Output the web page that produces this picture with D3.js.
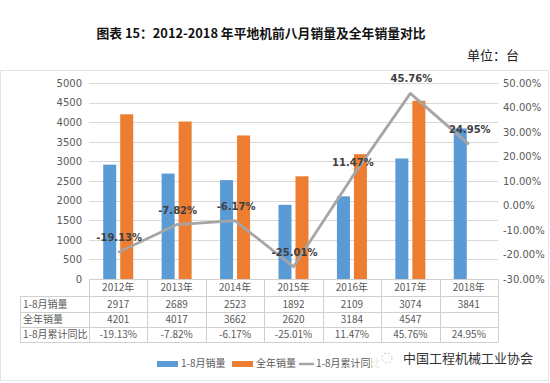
<!DOCTYPE html>
<html><head><meta charset="utf-8">
<script src="https://cdn.jsdelivr.net/npm/d3@7"></script>
<style>
body{margin:0;background:#fff;}
svg{display:block;font-family:"Noto Sans CJK SC","DejaVu Sans",sans-serif;}
</style></head>
<body><svg id="c" width="550" height="383"></svg>
<script>
const categories = ["2012年","2013年","2014年","2015年","2016年","2017年","2018年"];
const salesJanAug = [2917,2689,2523,1892,2109,3074,3841];
const salesFullYear = [4201,4017,3662,2620,3184,4547,null];
const yoyJanAug = [-19.13,-7.82,-6.17,-25.01,11.47,45.76,24.95];
const leftTicks = [0,500,1000,1500,2000,2500,3000,3500,4000,4500,5000];
const rightTicks = [-30,-20,-10,0,10,20,30,40,50];
const seriesNames = ["1-8月销量","全年销量","1-8月累计同比"];
const title = "图表 15：2012-2018 年平地机前八月销量及全年销量对比";
const unitLabel = "单位：台";
const watermark = "中国工程机械工业协会";

const svg = d3.select("#c");
const L = 89, R = 498, T = 83, B = 279;
const blue = "#5b9bd5", orange = "#ed7d31", gray = "#a5a5a5";
const grid = "#d9d9d9", txt = "#595959";
const pct = v => (v<0?"-":"") + d3.format(".2f")(Math.abs(v)) + "%";

// title
svg.append("text").attr("x",261).attr("y",38).attr("text-anchor","middle")
  .attr("font-size",12.8).attr("font-weight","bold").attr("fill","#111").text(title);
svg.append("text").attr("x",519).attr("y",60).attr("text-anchor","end")
  .attr("font-size",13).attr("fill","#222").text(unitLabel);

// frame
svg.append("rect").attr("x",0.5).attr("y",70.5).attr("width",548).attr("height",310)
  .attr("fill","none").attr("stroke","#e3e3e3");

const x = d3.scaleBand().domain(categories).range([L,R]);
const yL = d3.scaleLinear().domain([0,5000]).range([B,T]);
const yR = d3.scaleLinear().domain([-30,50]).range([B,T]);

// gridlines
svg.append("g").selectAll("line").data(leftTicks).join("line")
  .attr("x1",L).attr("x2",R).attr("y1",d=>Math.round(yL(d))+0.5).attr("y2",d=>Math.round(yL(d))+0.5)
  .attr("stroke",grid);

// axes
const axL = svg.append("g").attr("transform",`translate(${L-7},0)`)
  .call(d3.axisLeft(yL).tickValues(leftTicks).tickSize(0).tickPadding(0).tickFormat(d3.format("d")));
axL.select(".domain").remove();
axL.selectAll("text").attr("font-size",10).attr("fill",txt).attr("font-family","DejaVu Sans");
const axR = svg.append("g").attr("transform",`translate(${R+5},0)`)
  .call(d3.axisRight(yR).tickValues(rightTicks).tickSize(0).tickPadding(0).tickFormat(pct));
axR.select(".domain").remove();
axR.selectAll("text").attr("font-size",10).attr("fill",txt).attr("font-family","DejaVu Sans");

// bars
const bw = 13, gap = 4;
svg.append("g").selectAll("rect").data(salesJanAug).join("rect")
  .attr("x",(d,i)=>x(categories[i])+x.bandwidth()/2-bw-gap/2)
  .attr("width",bw).attr("y",d=>yL(d)).attr("height",d=>B-yL(d)).attr("fill",blue);
svg.append("g").selectAll("rect").data(salesFullYear.map((v,i)=>({v,i})).filter(d=>d.v!=null)).join("rect")
  .attr("x",d=>x(categories[d.i])+x.bandwidth()/2+gap/2)
  .attr("width",bw).attr("y",d=>yL(d.v)).attr("height",d=>B-yL(d.v)).attr("fill",orange);

// line
const line = d3.line().x((d,i)=>x(categories[i])+x.bandwidth()/2).y(d=>yR(d));
svg.append("path").datum(yoyJanAug).attr("d",line).attr("fill","none")
  .attr("stroke",gray).attr("stroke-width",2.75).attr("stroke-linejoin","round");
svg.append("g").selectAll("text").data(yoyJanAug).join("text")
  .attr("x",(d,i)=>x(categories[i])+x.bandwidth()/2+1)
  .attr("y",d=>yR(d)-11).attr("text-anchor","middle")
  .attr("font-size",10).attr("font-weight","bold").attr("fill","#404040")
  .attr("font-family","DejaVu Sans")
  .text(pct);

// data table
const rowsY = [279,296,312,327,342];
const tLeft = 20;
const tg = svg.append("g");
tg.append("line").attr("x1",L).attr("x2",R).attr("y1",B+0.5).attr("y2",B+0.5).attr("stroke","#d0d0d0");
rowsY.slice(1).forEach(y=>tg.append("line").attr("x1",tLeft).attr("x2",R).attr("y1",y+0.5).attr("y2",y+0.5).attr("stroke","#d0d0d0"));
const vx = categories.map(c=>x(c)).concat([R]);
vx.forEach(v=>tg.append("line").attr("x1",Math.round(v)+0.5).attr("x2",Math.round(v)+0.5).attr("y1",B).attr("y2",342).attr("stroke","#d0d0d0"));
tg.append("line").attr("x1",tLeft+0.5).attr("x2",tLeft+0.5).attr("y1",296).attr("y2",342).attr("stroke","#d0d0d0");
tg.selectAll("text.h").data(categories).join("text").attr("class","h")
  .attr("x",d=>x(d)+x.bandwidth()/2).attr("y",291).attr("text-anchor","middle")
  .attr("font-size",10).attr("fill",txt).text(d=>d);
const rowVals = [
  salesJanAug.map(String),
  salesFullYear.map(v=>v==null?"":String(v)),
  yoyJanAug.map(pct)
];
rowVals.forEach((vals,r)=>{
  const cy = (rowsY[r+1]+rowsY[r+2])/2+3.5;
  tg.append("text").attr("x",tLeft+3).attr("y",cy).attr("font-size",10).attr("fill",txt).text(seriesNames[r]);
  vals.forEach((v,i)=>tg.append("text").attr("x",x(categories[i])+x.bandwidth()/2).attr("y",cy)
    .attr("text-anchor","middle").attr("font-size",10).attr("fill",txt).text(v));
});

// legend
const lg = svg.append("g").attr("font-size",10).attr("fill",txt);
lg.append("rect").attr("x",157).attr("y",361).attr("width",21).attr("height",6).attr("fill",blue);
lg.append("text").attr("x",181).attr("y",367).text(seriesNames[0]);
lg.append("rect").attr("x",232).attr("y",361).attr("width",21).attr("height",6).attr("fill",orange);
lg.append("text").attr("x",256).attr("y",367).text(seriesNames[1]);
lg.append("line").attr("x1",299).attr("x2",314).attr("y1",364).attr("y2",364).attr("stroke",gray).attr("stroke-width",2.5);
lg.append("text").attr("x",316).attr("y",367).text(seriesNames[2]);

// watermark
svg.append("rect").attr("x",372).attr("y",348).attr("width",165).attr("height",22).attr("fill","#fff").attr("opacity",0.85);
svg.append("circle").attr("cx",387).attr("cy",358).attr("r",5).attr("fill","none").attr("stroke","#ccc").attr("stroke-dasharray","2,2");
svg.append("text").attr("x",403).attr("y",363).attr("font-size",13).attr("fill","#333").text(watermark);
</script></body></html>
